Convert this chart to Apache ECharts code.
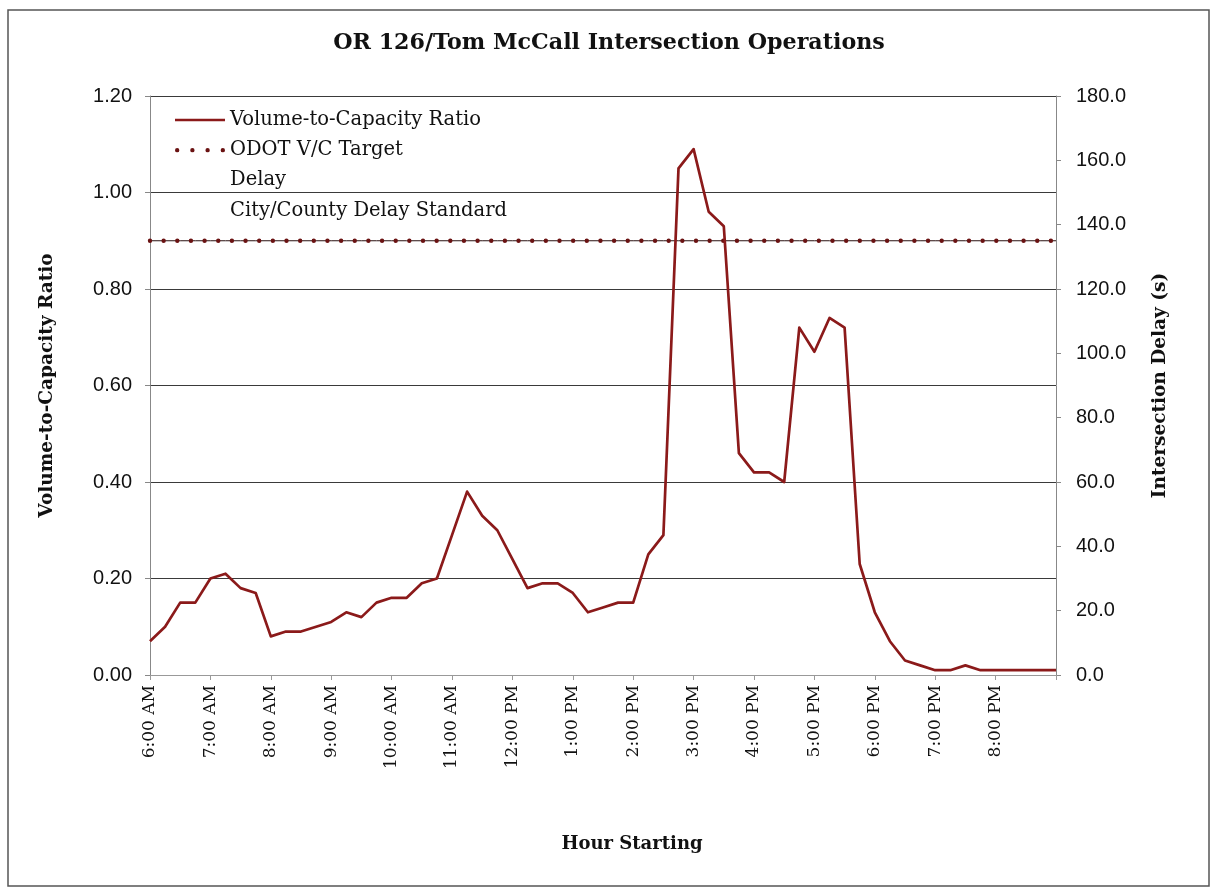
<!DOCTYPE html>
<html>
<head>
<meta charset="utf-8">
<title>OR 126/Tom McCall Intersection Operations</title>
<script src="https://cdn.jsdelivr.net/npm/echarts@6/dist/echarts.min.js"></script>
<style>
  html, body { margin: 0; padding: 0; background: #ffffff; }
  #chart { width: 1218px; height: 890px; }
</style>
</head>
<body>
<div id="chart"></div>
<script>
// 15-minute periods, 6:00 AM through 9:00 PM
const periods = [
  '6:00 AM', '6:15 AM', '6:30 AM', '6:45 AM',
  '7:00 AM', '7:15 AM', '7:30 AM', '7:45 AM',
  '8:00 AM', '8:15 AM', '8:30 AM', '8:45 AM',
  '9:00 AM', '9:15 AM', '9:30 AM', '9:45 AM',
  '10:00 AM', '10:15 AM', '10:30 AM', '10:45 AM',
  '11:00 AM', '11:15 AM', '11:30 AM', '11:45 AM',
  '12:00 PM', '12:15 PM', '12:30 PM', '12:45 PM',
  '1:00 PM', '1:15 PM', '1:30 PM', '1:45 PM',
  '2:00 PM', '2:15 PM', '2:30 PM', '2:45 PM',
  '3:00 PM', '3:15 PM', '3:30 PM', '3:45 PM',
  '4:00 PM', '4:15 PM', '4:30 PM', '4:45 PM',
  '5:00 PM', '5:15 PM', '5:30 PM', '5:45 PM',
  '6:00 PM', '6:15 PM', '6:30 PM', '6:45 PM',
  '7:00 PM', '7:15 PM', '7:30 PM', '7:45 PM',
  '8:00 PM', '8:15 PM', '8:30 PM', '8:45 PM',
  '9:00 PM'
];

// Volume-to-capacity ratio per period
const vcRatio = [
  0.07, 0.10, 0.15, 0.15,
  0.20, 0.21, 0.18, 0.17,
  0.08, 0.09, 0.09, 0.10,
  0.11, 0.13, 0.12, 0.15,
  0.16, 0.16, 0.19, 0.20,
  0.29, 0.38, 0.33, 0.30,
  0.24, 0.18, 0.19, 0.19,
  0.17, 0.13, 0.14, 0.15,
  0.15, 0.25, 0.29, 1.05,
  1.09, 0.96, 0.93, 0.46,
  0.42, 0.42, 0.40, 0.72,
  0.67, 0.74, 0.72, 0.23,
  0.13, 0.07, 0.03, 0.02,
  0.01, 0.01, 0.02, 0.01,
  0.01, 0.01, 0.01, 0.01,
  0.01
];

// ODOT mobility target (V/C)
const odotTarget = [
  0.90, 0.90, 0.90, 0.90, 0.90, 0.90, 0.90, 0.90, 0.90, 0.90,
  0.90, 0.90, 0.90, 0.90, 0.90, 0.90, 0.90, 0.90, 0.90, 0.90,
  0.90, 0.90, 0.90, 0.90, 0.90, 0.90, 0.90, 0.90, 0.90, 0.90,
  0.90, 0.90, 0.90, 0.90, 0.90, 0.90, 0.90, 0.90, 0.90, 0.90,
  0.90, 0.90, 0.90, 0.90, 0.90, 0.90, 0.90, 0.90, 0.90, 0.90,
  0.90, 0.90, 0.90, 0.90, 0.90, 0.90, 0.90, 0.90, 0.90, 0.90,
  0.90
];

// Delay series (seconds) – listed in the legend, no plotted values
const delaySeconds = [];
const delayStandard = [];

// Axis scales
const vcAxis = { min: 0, max: 1.2, step: 0.2 };
const delayAxis = { min: 0, max: 180, step: 20 };

const serif = '"DejaVu Serif", "Liberation Serif", serif';
const sans = '"Liberation Sans", Arial, sans-serif';
const lineRed = '#8b1a1a';
const dotRed = '#6a1212';

const chart = echarts.init(document.getElementById('chart'), null, { renderer: 'canvas' });

chart.setOption({
  backgroundColor: '#ffffff',
  animation: false,
  title: {
    text: 'OR 126/Tom McCall Intersection Operations',
    left: 'center',
    top: 27,
    textStyle: { fontFamily: serif, fontWeight: 'bold', fontSize: 22.2, color: '#111' }
  },
  graphic: [{
    type: 'rect',
    shape: { x: 8, y: 10, width: 1201, height: 876 },
    style: { fill: 'none', stroke: '#555', lineWidth: 1.5 },
    silent: true
  }],
  legend: {
    orient: 'vertical',
    left: 175,
    top: 110,
    padding: 0,
    itemWidth: 50,
    itemHeight: 14,
    itemGap: 10.2,
    itemStyle: { borderWidth: 0 },
    textStyle: { fontFamily: serif, fontSize: 19.5, color: '#111' },
    data: [
      { name: 'Volume-to-Capacity Ratio',
        icon: 'path://M0,0H50V2.6H0Z',
        itemStyle: { color: lineRed } },
      { name: 'ODOT V/C Target',
        icon: 'path://M2,2m-2,0a2,2 0 1,0 4,0a2,2 0 1,0 -4,0M16,2m-2,0a2,2 0 1,0 4,0a2,2 0 1,0 -4,0M30,2m-2,0a2,2 0 1,0 4,0a2,2 0 1,0 -4,0M44,2m-2,0a2,2 0 1,0 4,0a2,2 0 1,0 -4,0',
        itemStyle: { color: dotRed } },
      { name: 'Delay', icon: 'none' },
      { name: 'City/County Delay Standard', icon: 'none' }
    ],
    selectedMode: false
  },
  grid: { left: 150, right: 162, top: 96, bottom: 215, containLabel: false },
  xAxis: {
    type: 'category',
    data: periods,
    boundaryGap: false,
    name: 'Hour Starting',
    nameLocation: 'middle',
    nameGap: 160,
    nameTextStyle: { fontFamily: serif, fontWeight: 'bold', fontSize: 18, color: '#111',
      padding: [0, 0, 0, 58] },
    axisLine: { lineStyle: { color: '#999', width: 1 } },
    axisTick: { show: true, interval: (i) => i % 4 === 0, length: 5, lineStyle: { color: '#999' } },
    axisLabel: {
      interval: (i) => i % 4 === 0 && i < periods.length - 1,
      rotate: 90,
      margin: 10,
      fontFamily: serif,
      fontSize: 17,
      color: '#111'
    },
    splitLine: { show: false }
  },
  yAxis: [{
    type: 'value',
    min: vcAxis.min,
    max: vcAxis.max,
    interval: vcAxis.step,
    position: 'left',
    name: 'Volume-to-Capacity Ratio',
    nameLocation: 'middle',
    nameGap: 93,
    nameRotate: 90,
    nameTextStyle: { fontFamily: serif, fontWeight: 'bold', fontSize: 18.5, color: '#111' },
    axisLine: { show: true, lineStyle: { color: '#888', width: 1 } },
    axisTick: { show: true, length: 5, lineStyle: { color: '#888' } },
    axisLabel: { margin: 18, fontFamily: sans, fontSize: 20, color: '#111',
      formatter: (v) => v.toFixed(2) },
    splitLine: { show: true, lineStyle: { color: '#3a3a3a', width: 1 } }
  }, {
    type: 'value',
    min: delayAxis.min,
    max: delayAxis.max,
    interval: delayAxis.step,
    position: 'right',
    name: 'Intersection Delay (s)',
    nameLocation: 'middle',
    nameGap: 95,
    nameRotate: 90,
    nameTextStyle: { fontFamily: serif, fontWeight: 'bold', fontSize: 18.5, color: '#111' },
    axisLine: { show: true, lineStyle: { color: '#888', width: 1 } },
    axisTick: { show: true, length: 5, lineStyle: { color: '#888' } },
    axisLabel: { margin: 20, fontFamily: sans, fontSize: 20, color: '#111',
      formatter: (v) => v.toFixed(1) },
    splitLine: { show: false }
  }],
  series: [{
    name: 'Volume-to-Capacity Ratio',
    type: 'line',
    yAxisIndex: 0,
    data: vcRatio,
    symbol: 'none',
    z: 4,
    itemStyle: { color: lineRed },
    lineStyle: { color: lineRed, width: 2.7, join: 'round' }
  }, {
    name: 'ODOT V/C Target rule',
    type: 'line',
    yAxisIndex: 0,
    data: odotTarget,
    symbol: 'none',
    silent: true,
    z: 3,
    lineStyle: { color: '#2a1010', width: 1 }
  }, {
    name: 'ODOT V/C Target',
    type: 'line',
    yAxisIndex: 0,
    data: odotTarget,
    symbol: 'none',
    z: 3,
    itemStyle: { color: dotRed },
    lineStyle: { color: dotRed, width: 4.4, type: [0, 13.65], cap: 'round' }
  }, {
    name: 'Delay',
    type: 'line',
    yAxisIndex: 1,
    data: delaySeconds,
    symbol: 'none',
    itemStyle: { color: '#1f3f7a' },
    lineStyle: { color: '#1f3f7a', width: 2 }
  }, {
    name: 'City/County Delay Standard',
    type: 'line',
    yAxisIndex: 1,
    data: delayStandard,
    symbol: 'none',
    itemStyle: { color: '#1f3f7a' },
    lineStyle: { color: '#1f3f7a', width: 1, type: 'dashed' }
  }]
});
</script>
</body>
</html>
